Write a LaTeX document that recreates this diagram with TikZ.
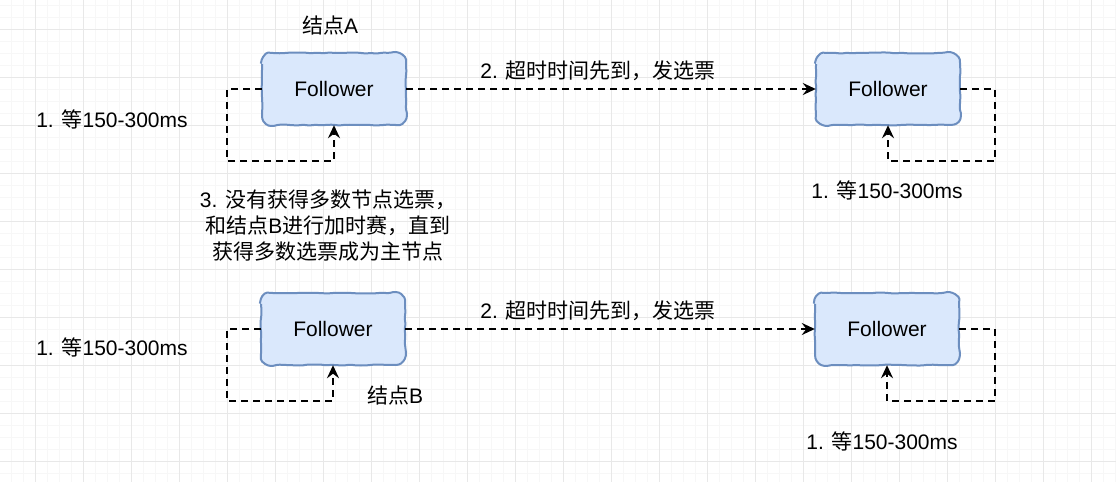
\documentclass[tikz,border=0pt]{standalone}
\usepackage{fontspec}
\setmainfont{Liberation Sans}
\newfontfamily\cjk{Noto Sans CJK SC}
\usetikzlibrary{arrows.meta,decorations.pathmorphing}
\definecolor{fillc}{HTML}{DAE8FC}
\definecolor{bordc}{HTML}{6C8EBF}
\definecolor{gridmin}{HTML}{F7F7F7}
\definecolor{gridmaj}{HTML}{E8E8E8}
\begin{document}
\begin{tikzpicture}[x=1pt,y=-1pt,
  sketchbox/.style={minimum width=144pt,minimum height=72pt,inner sep=0pt,
    font=\fontsize{21}{25}\selectfont},
  boxpath/.style={draw=bordc,fill=fillc,line width=2pt,rounded corners=1.5pt},
  dl/.style={draw=black,line width=2.4pt,dash pattern=on 7pt off 5pt},
  arr/.style={-{Stealth[length=13pt,width=12pt,inset=4.5pt]}},
  lbl/.style={font=\fontsize{21}{26}\selectfont,inner sep=0pt,align=center}]
\useasboundingbox (0,0) rectangle (1116,482);
\fill[white] (0,0) rectangle (1116,482);
% grid
\foreach \gx in {-1,11,...,1116} {\draw[gridmin,line width=0.8pt] (\gx,0) -- (\gx,482);}
\foreach \gy in {5,17,...,482} {\draw[gridmin,line width=0.8pt] (0,\gy) -- (1116,\gy);}
\foreach \gx in {35,83,...,1116} {\draw[gridmaj,line width=1pt] (\gx,0) -- (\gx,482);}
\foreach \gy in {29,77,...,482} {\draw[gridmaj,line width=1pt] (0,\gy) -- (1116,\gy);}
% boxes (sketchy outline)
\pgfmathsetseed{11}
\foreach \cx/\cy in {334/89, 888/89, 333/329, 887/329} {
  \draw[boxpath,decorate,decoration={random steps,segment length=6pt,amplitude=0.55pt}]
    {[rounded corners=11pt] (\cx-72,\cy-36) rectangle (\cx+72,\cy+36)};
}
\node[sketchbox] (a1) at (334,89) {Follower};
\node[sketchbox] (a2) at (888,89) {Follower};
\node[sketchbox] (b1) at (333,329) {Follower};
\node[sketchbox] (b2) at (887,329) {Follower};
% loop coordinates
\coordinate (la1) at (227,161);
\coordinate (ra2) at (995,161);
\coordinate (lb1) at (227,401);
\coordinate (rb2) at (995,401);
% connectors
\draw[dl,arr] (a1.west) -| (la1) -| (a1.south);
\draw[dl,arr] (a2.east) -| (ra2) -| (a2.south);
\draw[dl,arr] (b1.west) -| (lb1) -| (b1.south);
\draw[dl,arr] (b2.east) -| (rb2) -| (b2.south);
\draw[dl,arr] (a1.east) -- (a2.west);
\draw[dl,arr] (b1.east) -- (b2.west);
% labels
\node[lbl] (tA) at (330,25) {{\cjk 结点}A};
\node[lbl] (w1) at (112,119) {1. {\cjk 等}150-300ms};
\node[lbl] (w2) at (887,190) {1. {\cjk 等}150-300ms};
\node[lbl] (e1) at (598,71) {2. {\cjk 超时时间先到，发选票}};
\node[lbl] (n3) at (328,226) {3. {\cjk 没有获得多数节点选票，}\\{\cjk 和结点}B{\cjk 进行加时赛，直到}\\{\cjk 获得多数选票成为主节点}};
\node[lbl] (e2) at (598,311) {2. {\cjk 超时时间先到，发选票}};
\node[lbl] (tB) at (395,395) {{\cjk 结点}B};
\node[lbl] (w3) at (112,347) {1. {\cjk 等}150-300ms};
\node[lbl] (w4) at (882,441) {1. {\cjk 等}150-300ms};
\end{tikzpicture}
\end{document}
